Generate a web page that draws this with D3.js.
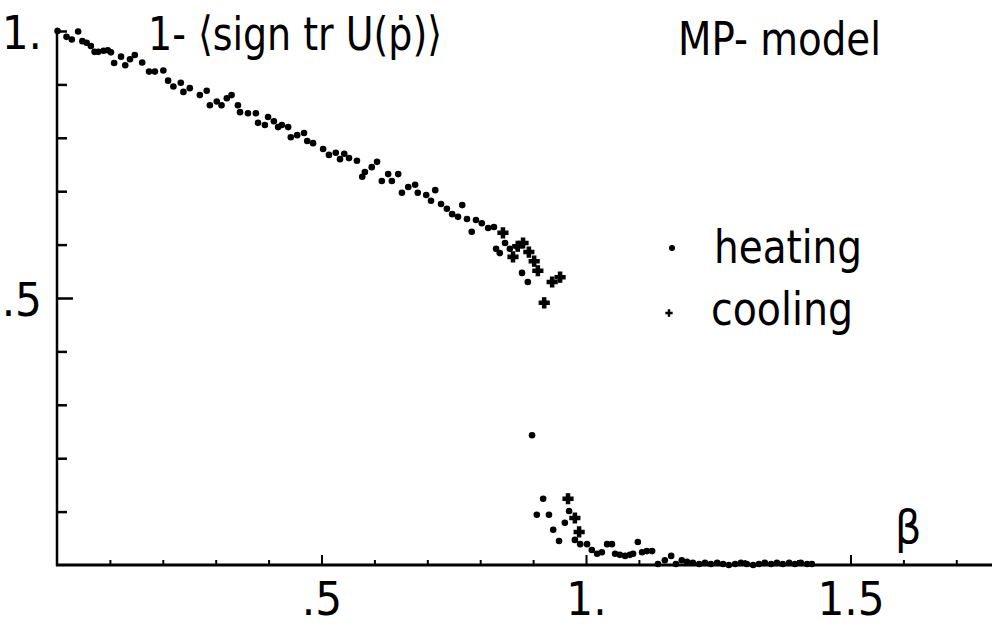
<!DOCTYPE html>
<html>
<head>
<meta charset="utf-8">
<script src="https://cdn.jsdelivr.net/npm/d3@7"></script>
<style>
  body { margin: 0; background: #fff; }
  svg { display: block; }
  text { font-family: "DejaVu Sans Condensed", "Liberation Sans Narrow", sans-serif; fill: #000; }
</style>
</head>
<body>
<div id="chart"></div>
<script>
// beta values and 1-<sign tr U(p)>
const heatingBeta = [0.001, 0.018, 0.028, 0.040, 0.048, 0.056, 0.064, 0.071, 0.078, 0.088, 0.096, 0.102, 0.108, 0.121, 0.129, 0.138, 0.147, 0.161, 0.174, 0.185, 0.201, 0.210, 0.220, 0.234, 0.239, 0.251, 0.270, 0.283, 0.289, 0.302, 0.311, 0.321, 0.330,
  0.342, 0.346, 0.361, 0.376, 0.380, 0.393, 0.399, 0.410, 0.418, 0.425, 0.437, 0.442, 0.454, 0.467, 0.473, 0.484, 0.503, 0.514, 0.527, 0.535, 0.543, 0.552, 0.567, 0.577, 0.582, 0.595, 0.605, 0.614, 0.626, 0.633, 0.645,
  0.652, 0.664, 0.677, 0.682, 0.698, 0.707, 0.715, 0.726, 0.737, 0.747, 0.758, 0.766, 0.775, 0.784, 0.792, 0.803, 0.815, 0.826, 0.830, 0.837, 0.847, 0.856, 0.870, 0.879, 0.879, 0.890,
  0.898, 0.907, 0.919, 0.930, 0.938, 0.949, 0.960, 0.968, 0.979, 0.989, 1.002, 1.011, 1.021, 1.030, 1.040, 1.049, 1.055, 1.064, 1.074, 1.083, 1.089, 1.098, 1.106, 1.115, 1.125, 1.136, 1.149, 1.161, 1.170, 1.181, 1.191,
  1.202, 1.214, 1.225, 1.236, 1.248, 1.259, 1.270, 1.282, 1.293, 1.304, 1.316, 1.327, 1.338, 1.350, 1.361, 1.372, 1.384, 1.395, 1.406, 1.418, 1.427];
const heatingVal = [1.000, 0.989, 0.984, 0.999, 0.981, 0.978, 0.972, 0.961, 0.961, 0.963, 0.964, 0.960, 0.940, 0.952, 0.936, 0.947, 0.955, 0.941, 0.924, 0.924, 0.926, 0.907, 0.896, 0.903, 0.886, 0.893, 0.880, 0.888, 0.861, 0.868, 0.861, 0.874, 0.880,
  0.861, 0.848, 0.846, 0.846, 0.828, 0.824, 0.839, 0.831, 0.820, 0.824, 0.820, 0.801, 0.805, 0.809, 0.794, 0.790, 0.779, 0.768, 0.772, 0.760, 0.770, 0.762, 0.757, 0.727, 0.736, 0.745, 0.755, 0.719, 0.732, 0.719, 0.732,
  0.697, 0.708, 0.712, 0.697, 0.693, 0.682, 0.702, 0.676, 0.667, 0.657, 0.652, 0.674, 0.648, 0.624, 0.646, 0.640, 0.631, 0.633, 0.592, 0.584, 0.603, 0.592, 0.596, 0.601, 0.547, 0.530,
  0.243, 0.094, 0.124, 0.094, 0.066, 0.045, 0.079, 0.101, 0.047, 0.039, 0.039, 0.028, 0.021, 0.024, 0.039, 0.039, 0.021, 0.019, 0.017, 0.019, 0.021, 0.043, 0.024, 0.026, 0.026, 0.002, 0.009, 0.017, 0.002, 0.009, 0.006,
  0.004, 0.002, 0.004, 0.002, 0.004, 0.002, 0.000, 0.002, 0.004, 0.002, 0.000, 0.002, 0.004, 0.002, 0.004, 0.002, 0.004, 0.002, 0.004, 0.002, 0.002];

const coolingBeta = [0.843, 0.862, 0.871, 0.881, 0.892, 0.902, 0.909, 0.921, 0.936, 0.951, 0.966, 0.979, 0.987];
const coolingVal = [0.622, 0.577, 0.597, 0.603, 0.586, 0.569, 0.551, 0.491, 0.530, 0.539, 0.124, 0.088, 0.062];

const xMinor = [0.1, 0.2, 0.3, 0.4, 0.6, 0.7, 0.8, 0.9, 1.1, 1.2, 1.3, 1.4, 1.6, 1.7];
const xMajor = [0.5, 1.0, 1.5];
const xLabels = [".5", "1.", "1.5"];
const yMinor = [0.1, 0.2, 0.3, 0.4, 0.6, 0.7, 0.8, 0.9, 1.0];
const yMajor = [0.5, 1.0];
const yLabels = [".5", "1."];

const width = 992, height = 631;

const svg = d3.select("#chart")
  .append("svg")
    .attr("width", width)
    .attr("height", height);

const x = d3.scaleLinear().domain([0, 1.77]).range([57, 57 + 1.77 * 529]);
const y = d3.scaleLinear().domain([0, 1]).range([565, 31]);

// y axis: inward ticks
const yAxisMinor = svg.append("g")
  .attr("transform", `translate(${x(0)},0)`)
  .call(d3.axisLeft(y).tickValues(yMinor).tickSize(-10).tickSizeOuter(0).tickFormat(""));
yAxisMinor.select(".domain").remove();
yAxisMinor.selectAll("line").attr("stroke-width", 2.5);

const yAxisMajor = svg.append("g")
  .attr("transform", `translate(${x(0)},0)`)
  .call(d3.axisLeft(y).tickValues([0.5]).tickSize(-16).tickSizeOuter(0).tickFormat(""));
yAxisMajor.select(".domain").remove();
yAxisMajor.selectAll("line").attr("stroke-width", 2.5);

svg.append("g").selectAll("text")
  .data(yMajor)
  .enter().append("text")
    .attr("x", 42)
    .attr("y", d => y(d) + 1)
    .attr("dy", "0.36em")
    .attr("text-anchor", "end")
    .attr("font-size", 47)
    .text((d, i) => yLabels[i]);

// x axis: inward ticks
const xAxisMinor = svg.append("g")
  .attr("transform", `translate(0,${y(0)})`)
  .call(d3.axisBottom(x).tickValues(xMinor).tickSize(-5).tickSizeOuter(0).tickFormat(""));
xAxisMinor.select(".domain").remove();
xAxisMinor.selectAll("line").attr("stroke-width", 2);

const xAxisMajor = svg.append("g")
  .attr("transform", `translate(0,${y(0)})`)
  .call(d3.axisBottom(x).tickValues(xMajor).tickSize(-10).tickSizeOuter(0).tickPadding(17)
    .tickFormat((d, i) => xLabels[i]));
xAxisMajor.select(".domain").remove();
xAxisMajor.selectAll("line").attr("stroke-width", 2);
xAxisMajor.selectAll("text")
  .attr("font-size", 47)
  .attr("font-family", "DejaVu Sans Condensed, sans-serif")
  .attr("fill", "#000");

// axis lines
svg.append("line")
  .attr("x1", x(0)).attr("x2", x(0))
  .attr("y1", y(0) + 1).attr("y2", y(1.006))
  .attr("stroke", "#000").attr("stroke-width", 2.5);
svg.append("line")
  .attr("x1", x(0) - 1).attr("x2", width)
  .attr("y1", y(0)).attr("y2", y(0))
  .attr("stroke", "#000").attr("stroke-width", 3);

// heating dots
const heating = heatingBeta.map((b, i) => ({ b, v: heatingVal[i] }));
svg.append("g").selectAll("circle")
  .data(heating)
  .enter().append("circle")
    .attr("cx", d => x(d.b))
    .attr("cy", d => y(d.v))
    .attr("r", 3.3)
    .attr("fill", "#000");

// cooling crosses
const cooling = coolingBeta.map((b, i) => ({ b, v: coolingVal[i] }));
const cross = d3.symbol().type(d3.symbolCross).size(55);
svg.append("g").selectAll("path")
  .data(cooling)
  .enter().append("path")
    .attr("transform", d => `translate(${x(d.b)},${y(d.v)})`)
    .attr("d", cross)
    .attr("fill", "#000")
    .attr("stroke", "#000")
    .attr("stroke-width", 1.2);

// texts
svg.append("text")
  .attr("x", 148).attr("y", 50)
  .attr("font-size", 47)
  .attr("textLength", 294)
  .attr("lengthAdjust", "spacingAndGlyphs")
  .text("1- \u27E8sign tr U(\u1E57)\u27E9");

svg.append("text")
  .attr("x", 678).attr("y", 55)
  .attr("font-size", 47)
  .attr("textLength", 203)
  .attr("lengthAdjust", "spacingAndGlyphs")
  .text("MP- model");

// legend
svg.append("circle")
  .attr("cx", 672).attr("cy", 248).attr("r", 3).attr("fill", "#000");
svg.append("text")
  .attr("x", 714).attr("y", 263)
  .attr("font-size", 47)
  .attr("textLength", 148)
  .attr("lengthAdjust", "spacingAndGlyphs")
  .text("heating");

svg.append("path")
  .attr("transform", "translate(669,313)")
  .attr("d", d3.symbol().type(d3.symbolCross).size(30))
  .attr("fill", "#000");
svg.append("text")
  .attr("x", 711).attr("y", 325)
  .attr("font-size", 47)
  .attr("textLength", 142)
  .attr("lengthAdjust", "spacingAndGlyphs")
  .text("cooling");

svg.append("text")
  .attr("x", 895).attr("y", 543)
  .attr("font-size", 46)
  .text("\u03B2");
</script>
</body>
</html>
